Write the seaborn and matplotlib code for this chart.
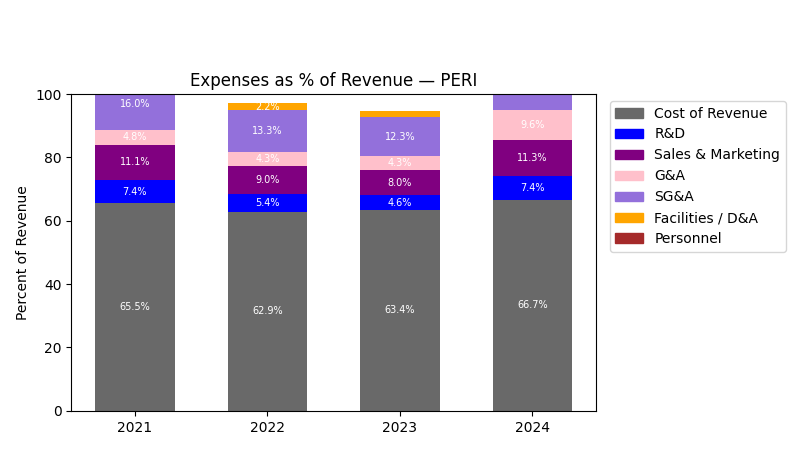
import matplotlib
matplotlib.use("Agg")
import matplotlib.pyplot as plt
from matplotlib.patches import Patch
import numpy as np
import pandas as pd
import seaborn as sns

years = ["2021", "2022", "2023", "2024"]
cost_of_revenue = [65.5, 62.9, 63.4, 66.7]
r_and_d = [7.4, 5.4, 4.6, 7.4]
sales_marketing = [11.1, 9.0, 8.0, 11.3]
g_and_a = [4.8, 4.3, 4.3, 9.6]
sg_and_a = [16.0, 13.3, 12.3, 15.0]
facilities = [0.0, 2.2, 1.9, 0.0]
personnel = [0.0, 0.0, 0.0, 0.0]

names = ["Cost of Revenue", "R&D", "Sales & Marketing", "G&A", "SG&A",
         "Facilities / D&A", "Personnel"]
series = [cost_of_revenue, r_and_d, sales_marketing, g_and_a, sg_and_a,
          facilities, personnel]
colors = ["dimgray", "blue", "purple", "pink", "mediumpurple", "orange", "brown"]

fig = plt.figure(figsize=(8, 4.5), dpi=100)
ax = fig.add_axes([0.089, 0.087, 0.656, 0.704])

vals = np.array(series)
tops = np.cumsum(vals, axis=0)
bottoms = tops - vals

# draw cumulative totals from the top layer down so each covers the one above
for i in reversed(range(len(names))):
    df = pd.DataFrame({"year": years, "top": tops[i]})
    sns.barplot(data=df, x="year", y="top", color=colors[i], width=0.6,
                saturation=1, ax=ax, errorbar=None)

for i in range(len(names)):
    for j in range(len(years)):
        v = vals[i][j]
        if v > 2:
            ax.text(j, bottoms[i][j] + v / 2, f"{v:.1f}%", ha="center",
                    va="center", color="white", fontsize=7, clip_on=True)

ax.set_xlim(-0.48, 3.48)
ax.set_ylim(0, 100)
ax.set_xlabel("")
ax.set_ylabel("Percent of Revenue")
ax.set_title("Expenses as % of Revenue — PERI")
handles = [Patch(color=c, label=n) for n, c in zip(names, colors)]
ax.legend(handles=handles, loc="upper left", bbox_to_anchor=(1.013, 1.0))

fig.savefig("out.png", dpi=100)
